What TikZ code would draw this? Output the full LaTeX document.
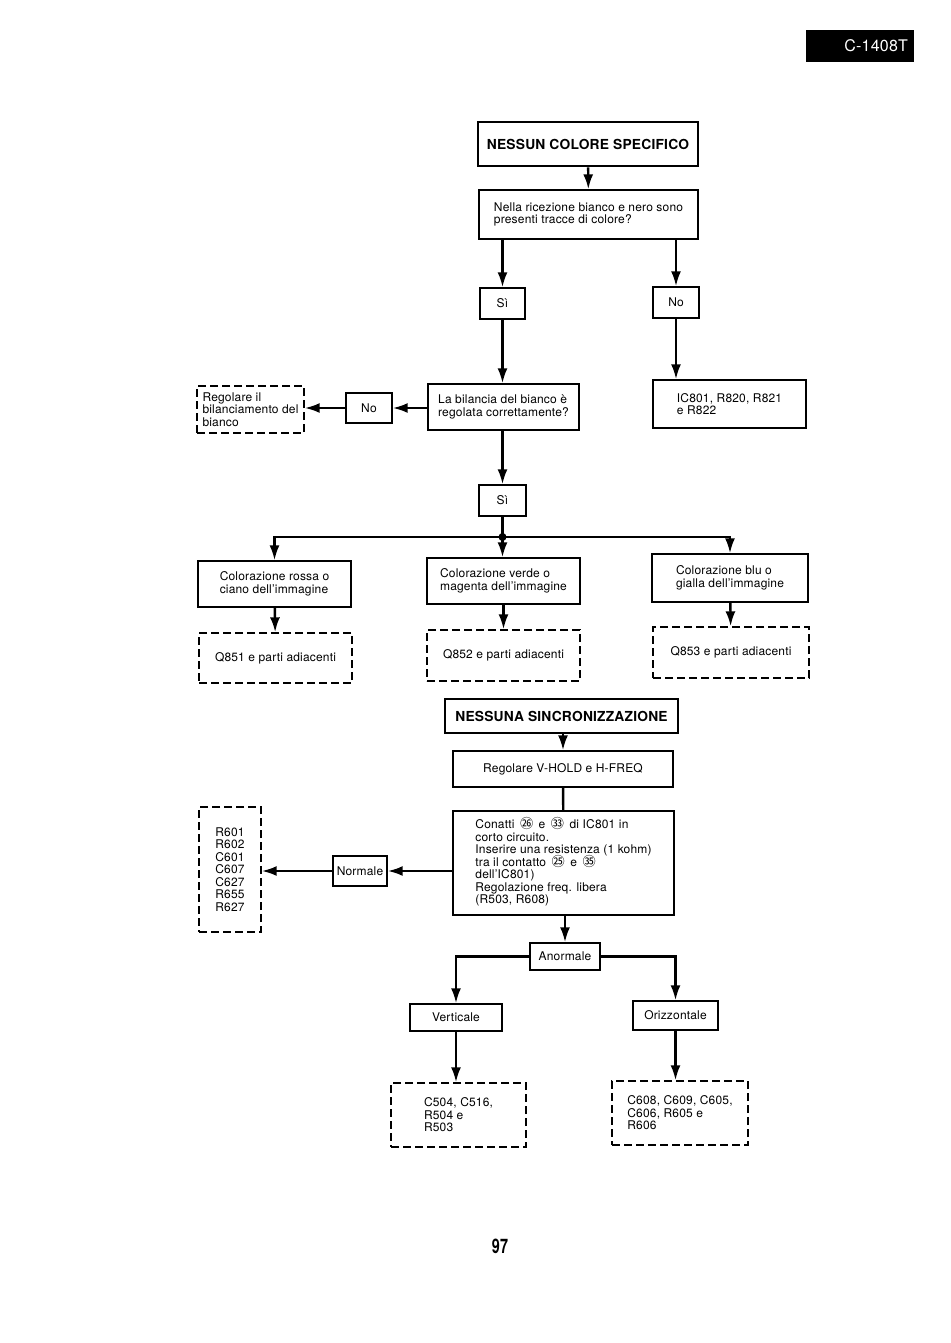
\documentclass[tikz,border=0pt]{standalone}
\usepackage{fontspec}
\setmainfont{TeX Gyre Heros}[LetterSpace=1.5]
\newfontfamily\cjk{Noto Sans CJK SC}[Scale=1.1]
\usetikzlibrary{arrows.meta}

\newcommand{\pin}[1]{\,\smash{\cjk #1}\,}

\tikzset{
  box/.style={draw, line width=1.4pt, inner sep=2pt, align=left,
    font=\fontsize{12}{12.5}\selectfont},
  dbox/.style={box, dash pattern=on 8pt off 4pt},
  headbox/.style={draw, line width=2.8pt, inner sep=2pt,
    font=\fontsize{13.8}{15}\selectfont\bfseries},
  link/.style={line width=2.4pt},
  arr/.style={link, -{Latex[length=15pt,width=10pt]}}
}

\begin{document}
\begin{tikzpicture}[x=1pt, y=-1pt]
      \useasboundingbox (0,0) rectangle (950,1343);

      \node[fill=black, text=white, minimum width=108, minimum height=32,
        text width=96, inner xsep=6, align=right,
        font=\fontsize{16}{16}\selectfont] (model) at (860,46) {C-1408T};

      % nessun colore
      \node[headbox, minimum width=220, minimum height=44] (tcol) at (588,144) {NESSUN COLORE SPECIFICO};
      \node[box, minimum width=219, minimum height=49] (qbn) at (588.5,214.5)
        {Nella ricezione bianco e nero sono\\presenti tracce di colore?};
      \node[box, minimum width=45, minimum height=31] (si1) at (502.5,303.5) {Sì};
      \node[box, minimum width=46, minimum height=31] (no1) at (676,302.5) {No};
      \node[box, minimum width=151, minimum height=46] (qbal) at (503.5,407)
        {La bilancia del bianco è\\regolata correttamente?};
      \node[box, minimum width=153, minimum height=48] (ic801) at (729.5,404)
        {IC801, R820, R821\\e R822};
      \node[box, minimum width=46, minimum height=30] (no2) at (369,408) {No};
      \node[dbox, minimum width=107, minimum height=47] (regbal) at (250.5,409.5)
        {Regolare il\\bilanciamento del\\bianco};
      \node[box, minimum width=47, minimum height=31] (si2) at (502.5,500.5) {Sì};
      \coordinate (jn) at (si2.south |- 0,537);

      \node[box, minimum width=153, minimum height=46] (rosso) at (274.5,584)
        {Colorazione rossa o\\ciano dell’immagine};
      \node[box, minimum width=153, minimum height=46] (verde) at (503.5,581)
        {Colorazione verde o\\magenta dell’immagine};
      \node[box, minimum width=156, minimum height=48] (blu) at (730,578)
        {Colorazione blu o\\gialla dell’immagine};
      \node[dbox, minimum width=153, minimum height=50] (q851) at (275.5,658) {Q851 e parti adiacenti};
      \node[dbox, minimum width=153, minimum height=51] (q852) at (503.5,655.5) {Q852 e parti adiacenti};
      \node[dbox, minimum width=156, minimum height=51] (q853) at (731,652.5) {Q853 e parti adiacenti};

      \draw[arr] (tcol) -- (qbn);
      \draw[arr] (si1.north |- qbn.south) -- (si1.north);
      \draw[arr] (no1.north |- qbn.south) -- (no1.north);
      \draw[arr] (si1.south) -- (si1.south |- qbal.north);
      \draw[arr] (no1.south) -- (no1.south |- ic801.north);
      \draw[arr] (no2.east -| qbal.west) -- (no2.east);
      \draw[arr] (no2.west) -- (no2.west -| regbal.east);
      \draw[arr] (qbal.south -| si2) -- (si2.north);
      \draw[link] (si2.south) -- (jn);
      \fill (jn) circle (4);
      \draw[arr] (jn) -| (rosso.north);
      \draw[arr] (jn) -- (verde.north -| jn);
      \draw[arr] (jn) -| (blu.north);
      \draw[arr] (rosso) -- (q851);
      \draw[arr] (verde) -- (q852);
      \draw[arr] (blu) -- (q853);

      % nessuna sincronizzazione
      \node[headbox, minimum width=233, minimum height=34] (tsync) at (561.5,716) {NESSUNA SINCRONIZZAZIONE};
      \node[box, minimum width=220, minimum height=36] (vhold) at (563,769) {Regolare V-HOLD e H-FREQ};
      \node[box, minimum width=221, minimum height=104] (conatti) at (563.5,863)
        {Conatti \pin{㉖} e \pin{㉝} di IC801 in\\
         corto circuito.\\
         Inserire una resistenza (1 kohm)\\
         tra il contatto \pin{㉕} e \pin{㉟}\\
         dell’IC801)\\
         Regolazione freq. libera\\
         (R503, R608)};
      \node[box, minimum width=54, minimum height=30, inner sep=1pt] (normale) at (360,871) {Normale};
      \node[dbox, minimum width=62, minimum height=125] (rlist) at (230,869.5)
        {R601\\R602\\C601\\C607\\C627\\R655\\R627};
      \node[box, minimum width=70, minimum height=27] (anormale) at (565,956.5) {Anormale};
      \node[box, minimum width=92, minimum height=27] (vert) at (456,1017.5) {Verticale};
      \node[box, minimum width=85, minimum height=29] (oriz) at (675.5,1015.5) {Orizzontale};
      \node[dbox, minimum width=135, minimum height=64] (cvert) at (458.5,1115)
        {C504, C516,\\R504 e\\R503};
      \node[dbox, minimum width=136, minimum height=64] (coriz) at (680,1113)
        {C608, C609, C605,\\C606, R605 e\\R606};

      \draw[arr] (tsync.south -| vhold) -- (vhold.north);
      \draw[link] (vhold) -- (conatti);
      \draw[arr] (normale.east -| conatti.west) -- (normale.east);
      \draw[arr] (normale.west) -- (normale.west -| rlist.east);
      \draw[arr] (conatti.south -| anormale) -- (anormale.north);
      \draw[arr] (anormale.west) -| (vert.north);
      \draw[arr] (anormale.east) -| (oriz.north);
      \draw[arr] (vert) -- (vert |- cvert.north);
      \draw[arr] (oriz) -- (oriz |- coriz.north);

      \node[font=\fontsize{20}{20}\selectfont\bfseries] (pagenum) at (500,1246) {\scalebox{0.72}[1]{97}};
\end{tikzpicture}
\end{document}
